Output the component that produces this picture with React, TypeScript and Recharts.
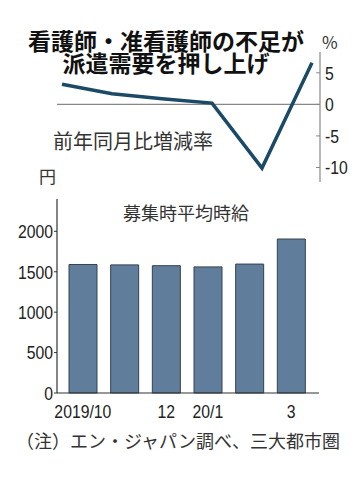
import React from 'react';
import {
  ComposedChart,
  BarChart,
  Bar,
  Line,
  XAxis,
  YAxis,
  ReferenceLine
} from 'recharts';

// 2019/10 - 2020/3
const months = ['2019/10', '2019/11', '2019/12', '2020/1', '2020/2', '2020/3'];
const monthLabels = ['2019/10', '', '12', '20/1', '', '3'];
// 前年同月比増減率 (%)
const changeRate = [3.2, 1.7, 0.9, 0.2, -10.1, 6.6];
// 募集時平均時給 (円)
const hourlyWage = [1590, 1585, 1575, 1560, 1595, 1905];
const rateTicks = [5, 0, -5, -10];
const wageTicks = [0, 500, 1000, 1500, 2000];

const data = months.map((m, i) => ({
  month: m,
  rate: changeRate[i],
  wage: hourlyWage[i]
}));

const JP = '"Noto Sans CJK JP", sans-serif';
const NUM = '"Liberation Sans", Arial, sans-serif';

const W = 362;
const H = 478;

const layer: React.CSSProperties = { position: 'absolute', left: 0, top: 0 };

// condensed numeric tick (no narrow font installed, so squeeze horizontally)
const narrowTick = (anchor: 'start' | 'middle' | 'end', dy: string, labels?: string[]) =>
  (props: any) => {
    const { x, y, payload, index } = props;
    const text = labels ? labels[index] : String(payload.value);
    if (!text) return <g />;
    return (
      <text
        transform={`translate(${x},${y}) scale(0.83,1)`}
        textAnchor={anchor}
        dy={dy}
        fill="#222"
        fontSize={19}
        fontFamily={NUM}
      >
        {text}
      </text>
    );
  };

const titleStyle: React.CSSProperties = {
  position: 'absolute', left: 0, width: 332, textAlign: 'center',
  fontSize: 23, lineHeight: '22px', fontWeight: 700, color: '#111', whiteSpace: 'nowrap'
};

const App: React.FC = () => {
  return (
    <div style={{ position: 'absolute', left: 0, top: 0, width: W, height: H, background: '#fff', fontFamily: JP }}>
      {/* bar chart: hourly wage */}
      <div style={layer}>
        <BarChart
          width={W}
          height={H}
          data={data}
          margin={{ top: 199, right: 43, bottom: 55, left: 0 }}
          barSize={28}
        >
          <XAxis
            dataKey="month"
            height={30}
            interval={0}
            tickLine={false}
            tickSize={0}
            tickMargin={11}
            padding={{ left: 5, right: 7 }}
            axisLine={{ stroke: '#333', strokeWidth: 1.2 }}
            tick={narrowTick('middle', '0.71em', monthLabels)}
          />
          <YAxis
            width={57}
            domain={[0, 2400]}
            ticks={wageTicks}
            interval={0}
            tickSize={3}
            tickMargin={1}
            axisLine={{ stroke: '#333', strokeWidth: 1.2 }}
            tickLine={{ stroke: '#333' }}
            tick={narrowTick('end', '0.355em')}
          />
          <Bar dataKey="wage" fill="#607e9c" stroke="#33414f" strokeWidth={1} isAnimationActive={false} />
        </BarChart>
      </div>

      {/* line chart: year-on-year change */}
      <div style={layer}>
        <ComposedChart
          width={W}
          height={H}
          data={data}
          margin={{ top: 52, right: 12, bottom: 296, left: 57 }}
        >
          <XAxis dataKey="month" hide padding={{ left: 5, right: 8 }} />
          <YAxis
            orientation="right"
            width={30}
            domain={[-12.3, 8.3]}
            ticks={rateTicks}
            interval={0}
            tickSize={-4}
            tickMargin={9}
            axisLine={{ stroke: '#888', strokeWidth: 1.2 }}
            tickLine={{ stroke: '#888' }}
            tick={narrowTick('start', '0.355em')}
          />
          <ReferenceLine y={0} stroke="#888" strokeWidth={1.2} />
          <Line
            type="linear"
            dataKey="rate"
            stroke="#1b4a67"
            strokeWidth={3.5}
            dot={false}
            isAnimationActive={false}
          />
        </ComposedChart>
      </div>

      {/* texts */}
      <div style={{ ...titleStyle, top: 29 }}>看護師・准看護師の不足が</div>
      <div style={{ ...titleStyle, top: 51 }}>派遣需要を押し上げ</div>
      <div style={{ position: 'absolute', left: 322, top: 32, fontSize: 17, lineHeight: '20px', color: '#333' }}>%</div>
      <div style={{ position: 'absolute', left: 53, top: 131, fontSize: 20, lineHeight: '20px', color: '#333' }}>前年同月比増減率</div>
      <div style={{ position: 'absolute', left: 39, top: 167, fontSize: 17, lineHeight: '17px', color: '#333' }}>円</div>
      <div style={{ position: 'absolute', left: 123, top: 203, fontSize: 18, lineHeight: '18px', color: '#333' }}>募集時平均時給</div>
      <div style={{ position: 'absolute', left: 16, top: 431, fontSize: 18, lineHeight: '18px', color: '#333', whiteSpace: 'nowrap' }}>
        （注）エン・ジャパン調べ、三大都市圏
      </div>
    </div>
  );
};

export default App;
